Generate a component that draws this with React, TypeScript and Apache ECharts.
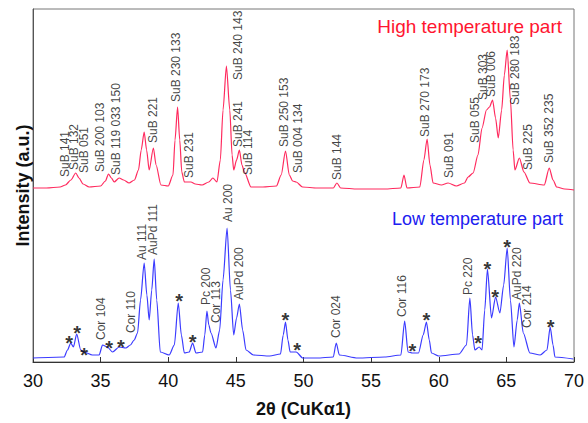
import React, { useEffect, useRef } from "react";
import * as echarts from "echarts";

// 2θ (deg), intensity (a.u.) — high temperature part (offset pattern)
const highX = [30.0, 31.0, 32.0, 32.4, 32.8, 33.16, 33.4, 33.7, 34.15, 35.0, 35.35, 35.58, 35.8, 36.0, 36.37, 36.7, 37.1, 37.5, 37.8, 38.0, 38.22, 38.4, 38.59, 38.9, 39.1, 39.46, 40.0, 40.35, 40.5, 40.69, 40.85, 41.0, 41.19, 41.68, 42.0, 42.5, 43.0, 43.3, 43.6, 43.85, 44.05, 44.3, 44.55, 44.72, 44.84, 45.05, 45.26, 45.45, 45.63, 46.12, 47.0, 48.0, 48.35, 48.67, 48.95, 49.2, 49.46, 49.93, 51.0, 52.2, 52.47, 52.75, 54.0, 56.0, 57.2, 57.43, 57.65, 58.6, 58.9, 59.14, 59.35, 59.58, 60.2, 60.69, 61.3, 61.9, 62.17, 62.54, 62.9, 63.2, 63.53, 63.75, 63.98, 64.2, 64.4, 64.65, 64.85, 65.06, 65.3, 65.5, 65.63, 65.96, 66.3, 66.74, 67.8, 68.17, 68.45, 68.72, 69.3, 70.0];
const highY = [174, 174, 175, 177, 182, 189, 184, 178, 175, 176, 181, 188, 184, 180, 184, 182, 179, 182, 192, 212, 230, 212, 192, 214, 197, 177, 176, 187, 222, 255, 222, 190, 180, 180, 178, 177, 180, 184, 180, 202, 252, 296, 252, 207, 192, 202, 212, 197, 190, 175, 175, 176, 187, 211, 187, 181, 180, 175, 174, 174, 179, 174, 173, 173, 174, 187, 174, 175, 202, 223, 197, 179, 177, 179, 176, 179, 185, 189, 207, 234, 252, 255, 262, 244, 224, 252, 287, 312, 262, 212, 192, 204, 190, 179, 177, 194, 182, 175, 173, 172];

// low temperature part
const lowX = [30.0, 32.3, 32.55, 32.79, 32.99, 33.23, 33.53, 33.78, 34.39, 34.89, 35.14, 35.5, 35.88, 36.37, 36.87, 37.2, 37.48, 37.73, 37.95, 38.22, 38.42, 38.59, 38.78, 38.96, 39.15, 39.41, 40.07, 40.45, 40.74, 40.97, 41.19, 41.55, 41.8, 42.05, 42.54, 42.7, 42.86, 43.0, 43.16, 43.53, 43.8, 44.05, 44.35, 44.6, 44.84, 45.05, 45.26, 45.5, 45.75, 46.3, 47.5, 48.3, 48.5, 48.67, 48.85, 49.01, 49.46, 49.95, 51.0, 52.2, 52.42, 52.65, 54.0, 56.0, 57.2, 57.48, 57.73, 58.05, 58.5, 58.85, 59.09, 59.3, 59.46, 60.0, 61.5, 62.05, 62.3, 62.5, 62.67, 62.99, 63.2, 63.4, 63.6, 63.9, 64.2, 64.52, 64.8, 65.06, 65.3, 65.56, 65.8, 65.96, 66.25, 66.74, 67.5, 68.0, 68.24, 68.45, 68.59, 69.95];
const lowY = [4, 5, 12, 19, 15, 28, 12, 10, 7, 7, 17, 15, 10, 15, 14, 17, 22, 29, 62, 99, 67, 42, 72, 103, 62, 10, 7, 17, 59, 27, 9, 10, 19, 9, 10, 27, 51, 37, 29, 14, 32, 82, 134, 72, 27, 44, 58, 32, 12, 7, 6, 8, 27, 40, 22, 10, 10, 4, 4, 5, 19, 7, 4, 5, 7, 41, 10, 9, 9, 27, 40, 22, 9, 6, 8, 17, 64, 27, 12, 15, 12, 52, 93, 44, 65, 49, 77, 114, 62, 15, 42, 59, 29, 9, 7, 12, 35, 17, 5, 3];

// peak labels: position (2θ), label base (a.u.), text
const highLabelX = [32.37, 33.04, 33.78, 34.96, 36.17, 38.89, 40.57, 41.56, 45.14, 45.14, 45.88, 48.59, 49.58, 52.5, 58.96, 60.76, 62.67, 63.28, 63.9, 65.63, 66.62, 68.17];
const highLabelY = [185, 192, 189, 190, 187, 219, 260, 184, 282, 215, 187, 215, 189, 182, 225, 184, 219, 262, 265, 257, 192, 199];
const highLabelText = ["SuB 141", "SuB 132", "SuB 051", "SuB 200 103", "SuB 119 033 150", "SuB 221", "SuB 230 133", "SuB 231", "SuB 240 143", "SuB 241", "SuB 114", "SuB 250 153", "SuB 004 134", "SuB 144", "SuB 270 173", "SuB 091", "SuB 055", "SuB 303", "SuB 006", "SuB 280 183", "SuB 225", "SuB 352 235"];

const lowLabelX = [35.01, 37.23, 38.05, 38.89, 42.79, 43.53, 44.39, 45.21, 52.42, 57.31, 62.17, 65.76, 66.5];
const lowLabelY = [22, 29, 102, 107, 57, 39, 140, 62, 24, 45, 67, 62, 34];
const lowLabelText = ["Cor 104", "Cor 110", "Au 111", "AuPd 111", "Pc 200", "Cor 113", "Au 200", "AuPd 200", "Cor 024", "Cor 116", "Pc 220", "AuPd 220", "Cor 214"];

// unidentified peaks (*)
const starX = [32.68, 33.27, 33.78, 35.63, 36.49, 40.81, 41.8, 48.67, 49.53, 58.05, 59.09, 62.92, 63.6, 64.17, 65.06, 68.27];
const starY = [24, 34, 12, 19, 20, 66, 25, 47, 17, 16, 47, 24, 98, 70, 120, 40];

const xTicks = { min: 30, max: 70, interval: 5 };

const FONT = "'Liberation Sans', Arial, Helvetica, sans-serif";

export default function App() {
  const ref = useRef<HTMLDivElement>(null);
  useEffect(() => {
    document.body.style.margin = "0";
    const chart = echarts.init(ref.current!, undefined, { renderer: "svg" });
    const labelSeries = (xs: number[], ys: number[], ts: string[]) => ({
      type: "scatter",
      silent: true,
      symbolSize: 1,
      itemStyle: { color: "rgba(0,0,0,0)" },
      data: xs.map((x, i) => [x, ys[i], ts[i]]),
      label: {
        show: true,
        position: "inside",
        rotate: 90,
        align: "left",
        verticalAlign: "middle",
        formatter: (p: any) => p.value[2],
        fontSize: 12,
        fontFamily: FONT,
        color: "#111",
      },
      z: 5,
    });
    chart.setOption({
      animation: false,
      textStyle: { fontFamily: FONT },
      grid: {
        left: 33,
        right: 14,
        top: 9,
        bottom: 61,
        show: true,
        borderColor: "#777",
        borderWidth: 1,
      },
      xAxis: {
        type: "value",
        min: xTicks.min,
        max: xTicks.max,
        interval: xTicks.interval,
        name: "2θ (CuKα1)",
        nameLocation: "middle",
        nameGap: 38,
        nameTextStyle: { fontSize: 18, fontWeight: "bold", color: "#111", fontFamily: FONT },
        axisLine: { lineStyle: { color: "#333", width: 1 } },
        axisTick: { inside: true, length: 5, lineStyle: { color: "#333" } },
        axisLabel: { fontSize: 18, color: "#111", margin: 10, fontFamily: FONT },
        splitLine: { show: false },
      },
      yAxis: {
        type: "value",
        min: 0,
        max: 353,
        name: "Intensity (a.u.)",
        nameLocation: "middle",
        nameGap: 1,
        nameTextStyle: { fontSize: 18, fontWeight: "bold", color: "#111", fontFamily: FONT },
        axisLine: { show: true, lineStyle: { color: "#555" } },
        axisTick: { show: false },
        axisLabel: { show: false },
        splitLine: { show: false },
      },
      graphic: [
        {
          type: "text",
          right: 26,
          top: 17,
          style: { text: "High temperature part", fontSize: 19, fill: "#ff1530", fontFamily: FONT },
        },
        {
          type: "text",
          right: 25,
          top: 210,
          style: { text: "Low temperature part", fontSize: 18, fill: "#2020f0", fontFamily: FONT },
        },
      ],
      series: [
        {
          type: "line",
          data: highX.map((x, i) => [x, highY[i]]),
          showSymbol: false,
          smooth: 0.25,
          smoothMonotone: "x",
          lineStyle: { color: "#ff2a5e", width: 1.2 },
          silent: true,
        },
        {
          type: "line",
          data: lowX.map((x, i) => [x, lowY[i]]),
          showSymbol: false,
          smooth: 0.25,
          smoothMonotone: "x",
          lineStyle: { color: "#3b3bff", width: 1.2 },
          silent: true,
        },
        labelSeries(highLabelX, highLabelY, highLabelText),
        labelSeries(lowLabelX, lowLabelY, lowLabelText),
        {
          type: "scatter",
          silent: true,
          symbolSize: 1,
          itemStyle: { color: "rgba(0,0,0,0)" },
          data: starX.map((x, i) => [x, starY[i]]),
          label: {
            show: true,
            position: "inside",
            formatter: "*",
            fontSize: 20,
            lineHeight: 9,
            fontWeight: "bold",
            offset: [0, 5],
            align: "center",
            verticalAlign: "middle",
            color: "#000",
            fontFamily: FONT,
          },
          z: 5,
        },
      ],
    });
    return () => chart.dispose();
  }, []);
  return <div ref={ref} style={{ width: 588, height: 423 }} />;
}
